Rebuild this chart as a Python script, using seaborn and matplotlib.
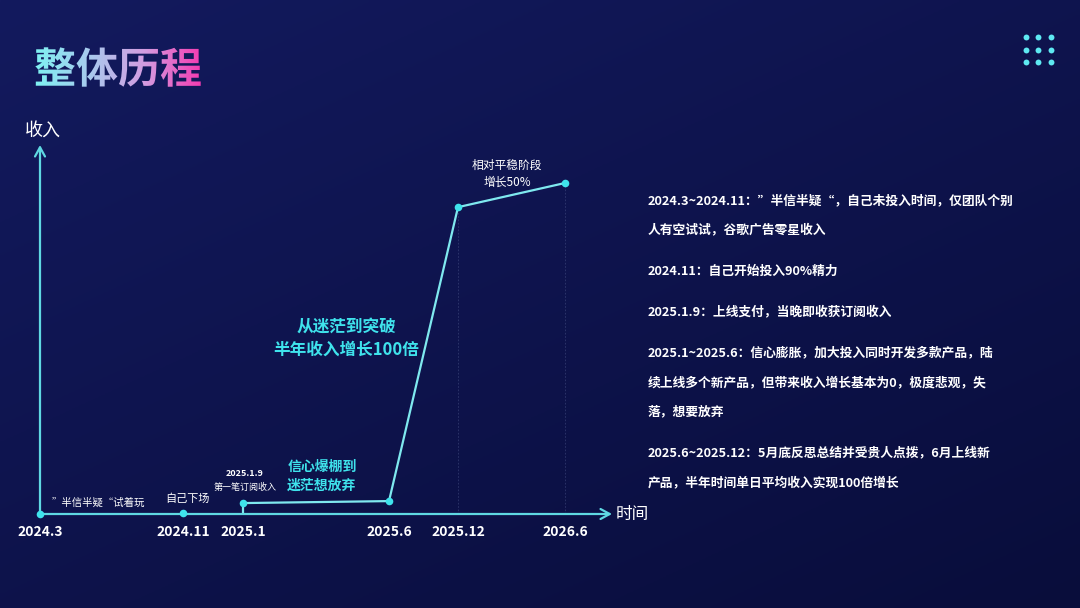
import numpy as np
import pandas as pd
import matplotlib
matplotlib.use("Agg")
import matplotlib.pyplot as plt
import seaborn as sns
from matplotlib.textpath import TextPath
from matplotlib.font_manager import FontProperties
from matplotlib.patches import PathPatch
from matplotlib.colors import LinearSegmentedColormap
import matplotlib.transforms as mtransforms

sns.set_theme(style="white")
FONT = ['Noto Sans CJK SC', 'DejaVu Sans']
plt.rcParams['font.family'] = FONT

# ---------------- data ----------------
periods = ["2024.3", "2024.11", "2025.1", "2025.6", "2025.12", "2026.6"]
timeline = [0, 143, 203, 349, 418, 525]          # position along the time axis
income = [0, 0.2, 3.3, 3.9, 92.7, 100]            # relative income index
growth_idx = [2, 3, 4, 5]                         # points joined by the income line

title = "整体历程"
notes_right = [
    "2024.3~2024.11：”半信半疑“，自己未投入时间，仅团队个别",
    "人有空试试，谷歌广告零星收入",
    "2024.11：自己开始投入90%精力",
    "2025.1.9：上线支付，当晚即收获订阅收入",
    "2025.1~2025.6：信心膨胀，加大投入同时开发多款产品，陆",
    "续上线多个新产品，但带来收入增长基本为0，极度悲观，失",
    "落，想要放弃",
    "2025.6~2025.12：5月底反思总结并受贵人点拨，6月上线新",
    "产品，半年时间单日平均收入实现100倍增长",
]
notes_y = [201, 230, 271, 312, 353, 383, 412, 453, 483]

df = pd.DataFrame({"period": periods, "t": timeline, "income": income})

# ---------------- figure ----------------
W, H = 1080, 608
fig = plt.figure(figsize=(W / 100, H / 100), dpi=100)

# background gradient
bg = fig.add_axes([0, 0, 1, 1], zorder=-5)
bg.set_xlim(0, W)
bg.set_ylim(H, 0)
bg.axis("off")
yy, xx = np.mgrid[0:1:200j, 0:1:360j]
g = 0.55 * yy + 0.45 * xx
top = np.array([0x13, 0x1a, 0x5e]) / 255
bot = np.array([0x09, 0x0d, 0x3b]) / 255
img = top[None, None, :] * (1 - g[..., None]) + bot[None, None, :] * g[..., None]
bg.imshow(img, extent=[0, W, H, 0], aspect="auto", zorder=-5)

# gradient title
fp = FontProperties(family="Noto Sans CJK SC", weight="bold")
tp = TextPath((0, 0), title, size=42, prop=fp)
tr = mtransforms.Affine2D().scale(1, -1).translate(34, 83)
path = tr.transform_path(tp)
patch = PathPatch(path, facecolor="none", edgecolor="none", transform=bg.transData)
bg.add_patch(patch)
cmap_t = LinearSegmentedColormap.from_list("t", ["#7ff2f2", "#a9c9ee", "#d49be0", "#f43cb2"])
grad = np.linspace(0, 1, 256)[None, :]
bb = path.get_extents()
im = bg.imshow(grad, cmap=cmap_t, extent=[bb.x0, bb.x1, bb.y1, bb.y0], aspect="auto", zorder=2)
im.set_clip_path(patch)

# nine dots top right
dot_x = [1026, 1038, 1051]
dot_y = [37, 50, 62]
for dy in dot_y:
    bg.scatter(dot_x, [dy] * 3, s=18, color="#5ee9f2", linewidths=0, zorder=3)

# right-side notes
for txt, y in zip(notes_right, notes_y):
    bg.text(648, y, txt, color="white", fontsize=9.2, fontweight="bold",
            va="center", ha="left", family=FONT)

# ---------------- main chart ----------------
x0, x1 = 40, 612
y0, y1 = 514, 145
ax = fig.add_axes([x0 / W, (H - y0) / H, (x1 - x0) / W, (y0 - y1) / H])
ax.set_facecolor("none")
ax.set_xlim(0, 572)
ax.set_ylim(0, (y0 - y1) / 3.31)
for s in ax.spines.values():
    s.set_visible(False)
ax.set_yticks([])
ax.set_xticks(timeline)
ax.set_xticklabels(periods, color="white", fontsize=10, fontweight="bold", family=FONT)
ax.tick_params(axis="x", length=0, pad=8)
ax.grid(False)

line_c = "#7fe9ef"
axis_c = "#5fd8e2"

# axes arrows
arw = dict(arrowstyle="->,head_length=0.55,head_width=0.3", color=axis_c, lw=1.6, shrinkA=0, shrinkB=0)
ax.annotate("", xy=(1.0, 0), xytext=(0, 0), xycoords="axes fraction", arrowprops=arw, annotation_clip=False)
ax.annotate("", xy=(0, 1.0), xytext=(0, 0), xycoords="axes fraction", arrowprops=arw, annotation_clip=False)

# faint drop lines
for i in [4, 5]:
    ax.vlines(timeline[i], 0, income[i], colors="#5a6598", linestyles=(0, (2, 2)), lw=0.6, alpha=0.45)

# stem for first subscription
ax.vlines(timeline[2], 0, income[2], colors=line_c, lw=1.6)

sns.lineplot(data=df.iloc[growth_idx], x="t", y="income", ax=ax, color=line_c, lw=1.6,
             sort=False, legend=False)
sns.scatterplot(data=df, x="t", y="income", ax=ax, color="#3fe3ec", s=30, linewidth=0,
                zorder=5, clip_on=False, legend=False)
ax.set_xlabel("")
ax.set_ylabel("")

# axis titles
bg.text(43, 131, "收入", color="white", fontsize=13, ha="center", va="center", family=FONT)
bg.text(632, 515, "时间", color="white", fontsize=12, ha="center", va="center", family=FONT)

# annotations
bg.text(98, 503, "”半信半疑“试着玩", color="white", fontsize=7.5, ha="center", va="center", family=FONT)
bg.text(187, 499, "自己下场", color="white", fontsize=8, ha="center", va="center", family=FONT)
bg.text(245, 474, "2025.1.9", color="white", fontsize=6.5, fontweight="bold", ha="center", va="center", family=FONT)
bg.text(245, 487, "第一笔订阅收入", color="white", fontsize=6.5, ha="center", va="center", family=FONT)
bg.text(322, 476, "信心爆棚到\n迷茫想放弃", color="#3fe3ec", fontsize=10, ha="center", va="center",
        linespacing=1.45, fontweight="bold", family=FONT)
bg.text(346, 338, "从迷茫到突破\n半年收入增长100倍", color="#3fe3ec", fontsize=12, ha="center", va="center",
        linespacing=1.35, fontweight="bold", family=FONT)
bg.text(507, 174, "相对平稳阶段\n增长50%", color="white", fontsize=8.5, ha="center", va="center",
        linespacing=1.4, family=FONT)

fig.savefig("out.png", dpi=100)
